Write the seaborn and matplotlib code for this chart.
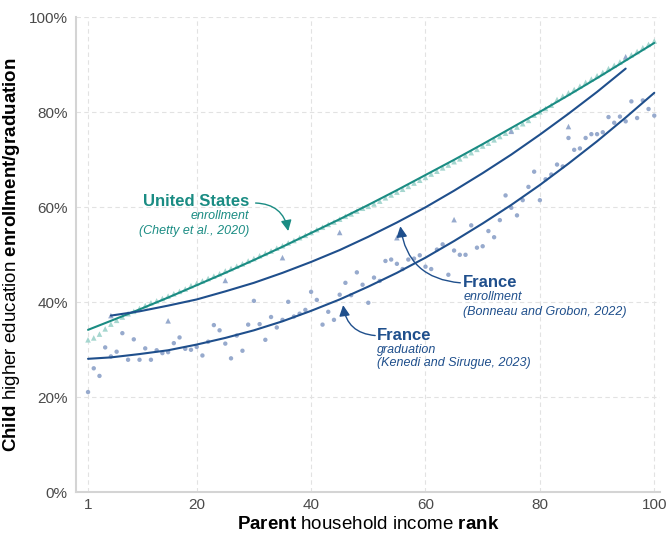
#%% ---- Load Packages ----
import numpy as np
import pandas as pd
import matplotlib
matplotlib.use("Agg")
import matplotlib.pyplot as plt
import seaborn as sns

# %% ---- Data (in %) ----
pct_rank = list(range(1, 101))

us_enroll = [32.1, 32.5, 33.3, 34.4, 35.4, 36.2, 36.9, 37.6, 38.1, 38.7,
             39.3, 39.9, 40.3, 40.8, 41.3, 41.8, 42.3, 42.8, 43.5, 44.0,
             44.5, 45.0, 45.5, 46.0, 46.6, 47.1, 47.6, 48.1, 48.7, 49.2,
             49.8, 50.3, 50.8, 51.4, 51.9, 52.5, 53.0, 53.6, 54.1, 54.7,
             55.3, 55.8, 56.4, 56.9, 57.5, 58.1, 58.6, 59.2, 59.8, 60.2,
             60.7, 61.3, 62.0, 62.6, 63.2, 63.8, 64.4, 65.1, 65.7, 66.3,
             67.0, 67.6, 68.3, 68.9, 69.6, 70.2, 70.9, 71.5, 72.2, 72.9,
             73.5, 74.2, 74.9, 75.6, 76.2, 76.9, 77.6, 78.3, 79.4, 80.1,
             80.8, 81.5, 82.7, 83.4, 84.1, 84.8, 85.5, 86.3, 87.0, 87.7,
             88.4, 89.2, 89.9, 90.6, 91.4, 92.1, 92.8, 93.6, 94.3, 95.0]

fr_grad = [21.1, 26.1, 24.5, 30.5, 28.6, 29.6, 33.5, 27.9, 32.2, 27.9,
           30.3, 27.9, 29.9, 29.3, 29.5, 31.4, 32.6, 30.2, 30.0, 30.6,
           28.8, 31.7, 35.2, 34.1, 31.3, 28.2, 33.0, 29.8, 35.3, 40.3,
           35.4, 32.1, 36.9, 34.7, 36.3, 40.1, 37.0, 37.6, 38.4, 42.2,
           40.5, 35.3, 38.0, 36.3, 41.6, 44.1, 41.5, 46.3, 43.7, 39.9,
           45.2, 44.5, 48.7, 49.0, 48.1, 47.0, 49.0, 49.2, 49.9, 47.5,
           47.0, 51.1, 52.2, 45.8, 50.9, 50.0, 50.0, 56.2, 51.5, 51.8,
           55.0, 53.7, 57.3, 62.5, 59.9, 58.3, 61.5, 64.3, 67.5, 61.5,
           65.9, 66.9, 69.0, 68.6, 74.6, 72.1, 72.4, 74.6, 75.4, 75.4,
           75.8, 79.0, 77.8, 79.1, 78.1, 82.3, 78.8, 82.5, 80.7, 79.3]

fr_enroll_rank = [5, 15, 25, 35, 45, 55, 65, 75, 85, 95]
fr_enroll = [37.2, 36.1, 44.6, 49.4, 54.7, 53.6, 57.4, 76.0, 77.0, 91.7]

# fitted curves, read every 5 ranks
fit_rank = [1, 5, 10, 15, 20, 25, 30, 35, 40, 45, 50,
            55, 60, 65, 70, 75, 80, 85, 90, 95, 100]
us_fit = [34.2, 36.1, 38.5, 41.0, 43.6, 46.2, 48.9, 51.7, 54.6, 57.5, 60.5,
          63.6, 66.8, 70.0, 73.3, 76.7, 80.1, 83.6, 87.2, 90.9, 94.6]
fr_grad_fit = [28.1, 28.4, 29.1, 29.9, 31.1, 32.5, 34.1, 36.0, 38.2, 40.6, 43.3,
               46.2, 49.4, 52.9, 56.6, 60.5, 64.7, 69.2, 73.9, 78.9, 84.1]
fr_enroll_fit_rank = [5, 10, 15, 20, 25, 30, 35, 40, 45, 50,
                      55, 60, 65, 70, 75, 80, 85, 90, 95]
fr_enroll_fit = [37.2, 38.1, 39.3, 40.6, 42.3, 44.1, 46.2, 48.5, 51.0, 53.8,
                 56.8, 60.0, 63.5, 67.2, 71.1, 75.3, 79.7, 84.3, 89.2]

x_ticks = [1, 20, 40, 60, 80, 100]
y_ticks = [0, 20, 40, 60, 80, 100]

# %% ---- Style ----
teal = "#1a8c83"
teal_light = "#a5d6cf"
blue = "#1f4f8c"
blue_light = "#97aacd"

sns.set_theme(style="whitegrid")
plt.rcParams['font.family'] = ['Liberation Sans', 'DejaVu Sans']
plt.rcParams['mathtext.fontset'] = 'custom'
plt.rcParams['mathtext.rm'] = 'Liberation Sans'
plt.rcParams['mathtext.bf'] = 'Liberation Sans:bold'
plt.rcParams['mathtext.it'] = 'Liberation Sans:italic'

pts = pd.DataFrame({'rank': pct_rank, 'us': us_enroll, 'fr_grad': fr_grad})
dec = pd.DataFrame({'rank': fr_enroll_rank, 'fr_enroll': fr_enroll})
fits = pd.DataFrame({'rank': fit_rank, 'us': us_fit, 'fr_grad': fr_grad_fit})
fits_en = pd.DataFrame({'rank': fr_enroll_fit_rank, 'fr_enroll': fr_enroll_fit})

fig = plt.figure(figsize=(6.68, 5.33), dpi=100)
ax = fig.add_axes([0.1138, 0.0764, 0.8742, 0.8911])

# %% ---- Points ----
sns.scatterplot(data=pts, x='rank', y='us', marker='^', s=16, color=teal_light,
                edgecolor='none', ax=ax, zorder=2)
sns.scatterplot(data=pts, x='rank', y='fr_grad', marker='o', s=10, color=blue_light,
                edgecolor='none', ax=ax, zorder=2)
sns.scatterplot(data=dec, x='rank', y='fr_enroll', marker='^', s=16, color=blue_light,
                edgecolor='none', ax=ax, zorder=2)

# %% ---- Fitted lines ----
sns.lineplot(data=fits, x='rank', y='us', color=teal, lw=1.5, ax=ax, zorder=3)
sns.lineplot(data=fits, x='rank', y='fr_grad', color=blue, lw=1.5, ax=ax, zorder=3)
sns.lineplot(data=fits_en, x='rank', y='fr_enroll', color=blue, lw=1.5, ax=ax, zorder=3)

# %% ---- Annotations ----
ax.text(29.2, 61.3, "United States", color=teal, fontsize=12, fontweight='bold',
        ha='right', va='center')
ax.text(29.2, 58.2, "enrollment", color=teal, fontsize=9, style='italic',
        ha='right', va='center')
ax.text(29.2, 55.0, "(Chetty et al., 2020)", color=teal, fontsize=9, style='italic',
        ha='right', va='center')
ax.annotate("", xy=(36.0, 55.0), xytext=(30.3, 60.9),
            arrowprops=dict(arrowstyle='-|>', color=teal, lw=1, mutation_scale=16,
                            shrinkA=0, shrinkB=0, connectionstyle='arc3,rad=-0.4'))

ax.text(66.6, 44.1, "France", color=blue, fontsize=12, fontweight='bold',
        ha='left', va='center')
ax.text(66.6, 41.2, "enrollment", color=blue, fontsize=9, style='italic',
        ha='left', va='center')
ax.text(66.6, 38.0, "(Bonneau and Grobon, 2022)", color=blue, fontsize=9, style='italic',
        ha='left', va='center')
ax.annotate("", xy=(55.6, 56.0), xytext=(66.1, 44.1),
            arrowprops=dict(arrowstyle='-|>', color=blue, lw=1, mutation_scale=16,
                            shrinkA=0, shrinkB=0, connectionstyle='arc3,rad=-0.4'))

ax.text(51.5, 33.0, "France", color=blue, fontsize=12, fontweight='bold',
        ha='left', va='center')
ax.text(51.5, 30.0, "graduation", color=blue, fontsize=9, style='italic',
        ha='left', va='center')
ax.text(51.5, 27.2, "(Kenedi and Sirugue, 2023)", color=blue, fontsize=9, style='italic',
        ha='left', va='center')
ax.annotate("", xy=(45.6, 39.4), xytext=(51.2, 33.0),
            arrowprops=dict(arrowstyle='-|>', color=blue, lw=1, mutation_scale=16,
                            shrinkA=0, shrinkB=0, connectionstyle='arc3,rad=-0.4'))

# %% ---- Axes ----
ax.set_xlim(-1.1, 101.0)
ax.set_ylim(0, 100)
ax.set_xticks(x_ticks)
ax.set_xticklabels([str(t) for t in x_ticks])
ax.set_yticks(y_ticks)
ax.set_yticklabels([f"{t}%" for t in y_ticks])
ax.tick_params(axis='both', length=0, labelsize=11, labelcolor='#4a4a4a', pad=4)
ax.tick_params(axis='y', pad=6)

ax.grid(True, color='#e2e2e2', linestyle=(0, (4, 3)), lw=0.8)
for side in ['top', 'right']:
    ax.spines[side].set_visible(False)
for side in ['left', 'bottom']:
    ax.spines[side].set_visible(True)
    ax.spines[side].set_color('#d4d4d4')
    ax.spines[side].set_linewidth(1.5)
ax.set_facecolor('white')

ax.set_xlabel(r"$\mathbf{Parent}$ household income $\mathbf{rank}$",
              fontsize=13.5, color='black', labelpad=3)
ax.set_ylabel(r"$\mathbf{Child}$ higher education $\mathbf{enrollment/graduation}$",
              fontsize=13.5, color='black', labelpad=5)

fig.savefig("out.png", dpi=100, facecolor='white')
